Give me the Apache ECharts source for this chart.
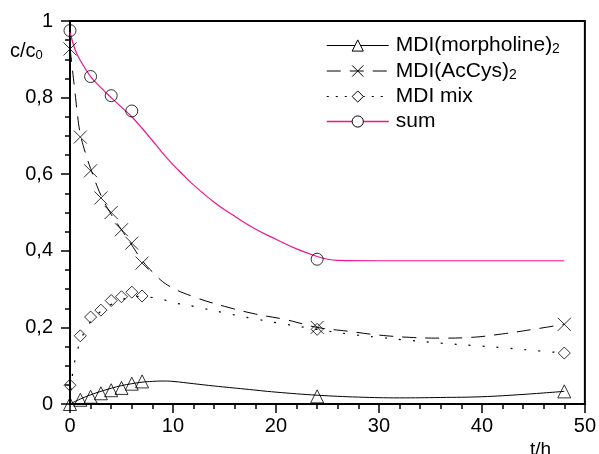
<!DOCTYPE html>
<html>
<head>
<meta charset="utf-8">
<script src="https://cdn.jsdelivr.net/npm/echarts@6/dist/echarts.min.js"></script>
<style>
html,body{margin:0;padding:0;background:#fff;}
#c{width:599px;height:454px;}
</style>
</head>
<body>
<div id="c"></div>
<script>
// ---- measured points ----
const tPts = [0, 1, 2, 3, 4, 5, 6, 7, 24, 48];
const morphPts = [0, 0.011, 0.019, 0.028, 0.036, 0.042, 0.053, 0.059, 0.02, 0.033];
const acCysPts = [0.927, 0.697, 0.609, 0.538, 0.5, 0.455, 0.42, 0.368, 0.2, 0.208];
const mixPts = [0.049, 0.178, 0.227, 0.245, 0.27, 0.28, 0.292, 0.282, 0.195, 0.133];
const tSum = [0, 2, 4, 6, 24];
const sumPts = [0.975, 0.855, 0.805, 0.765, 0.378];

// ---- fitted curves ----
const tMorphCurve = [0, 1, 2, 3, 4, 5, 6, 7, 8, 9, 10, 12, 14, 17, 20, 24, 28, 32, 36, 40, 44, 48];
const morphCurve = [0, 0.013, 0.024, 0.033, 0.041, 0.048, 0.053, 0.057, 0.059, 0.06, 0.059, 0.053, 0.047, 0.039, 0.031, 0.023, 0.018, 0.016, 0.017, 0.019, 0.025, 0.033];
const tAcCurve = [0, 0.25, 0.5, 0.75, 1, 1.5, 2, 3, 4, 5, 6, 7, 8, 9.5, 12, 15, 18, 21, 24, 27, 30, 33, 36, 39, 42, 45, 48];
const acCurve = [0.93, 0.87, 0.81, 0.75, 0.705, 0.655, 0.615, 0.545, 0.495, 0.455, 0.415, 0.375, 0.345, 0.31, 0.28, 0.255, 0.235, 0.22, 0.2, 0.19, 0.18, 0.174, 0.172, 0.174, 0.183, 0.195, 0.208];
const tMixCurve = [0, 0.3, 0.7, 1, 2, 3, 4, 5, 6, 7, 8, 9, 10, 12, 15, 18, 21, 24, 27, 30, 33, 36, 39, 42, 45, 48];
const mixCurve = [0, 0.09, 0.135, 0.165, 0.215, 0.242, 0.26, 0.272, 0.279, 0.281, 0.278, 0.273, 0.265, 0.255, 0.238, 0.222, 0.208, 0.195, 0.183, 0.174, 0.166, 0.159, 0.153, 0.147, 0.14, 0.133];
const tSumCurve = [0, 0.5, 1, 2, 3, 4, 5, 6, 7, 8, 9, 10, 11, 12, 14, 16, 18, 20, 22, 24, 25, 26, 30, 48];
const sumCurve = [0.97, 0.925, 0.897, 0.855, 0.826, 0.8, 0.775, 0.75, 0.72, 0.688, 0.655, 0.625, 0.598, 0.572, 0.527, 0.49, 0.457, 0.43, 0.405, 0.385, 0.378, 0.375, 0.374, 0.374];

const seriesNames = ['MDI(morpholine)2', 'MDI(AcCys)2', 'MDI mix', 'sum'];
const legendLabels = ['{m|MDI(morpholine)}{s|2}', '{m|MDI(AcCys)}{s|2}', '{m|MDI mix}', '{m|sum}'];
const xTicks = [0, 10, 20, 30, 40, 50];
const yTicks = [0, 0.2, 0.4, 0.6, 0.8, 1];

const FONT = 'Arial, "Liberation Sans", Helvetica, sans-serif';
const SUM_COLOR = '#f0148c';
const CROSS = 'path://M0,0L10,10M10,0L0,10';

function zip(xs, ys) { return xs.map((x, i) => [x, ys[i]]); }

const hollow = { color: 'rgba(0,0,0,0)', borderColor: '#000', borderWidth: 1 };
const legendItem = { color: '#fff', borderColor: '#000', borderWidth: 1 };

const chart = echarts.init(document.getElementById('c'), null, { renderer: 'canvas' });
chart.setOption({
  animation: false,
  backgroundColor: '#fff',
  grid: { left: 70, right: 13, top: 21, bottom: 50, show: true, borderColor: '#000', borderWidth: 2, backgroundColor: 'transparent' },
  xAxis: {
    type: 'value', min: xTicks[0], max: xTicks[xTicks.length - 1], interval: 10,
    axisLine: { show: true, onZero: false, lineStyle: { color: '#000', width: 2 } },
    axisTick: { show: true, inside: false, length: 9, lineStyle: { color: '#000', width: 1.5 } },
    minorTick: { show: true, splitNumber: 5, length: 5, lineStyle: { color: '#000', width: 1.5 } },
    splitLine: { show: false },
    axisLabel: { color: '#000', fontSize: 20, fontFamily: FONT, margin: 12 }
  },
  yAxis: {
    type: 'value', min: yTicks[0], max: yTicks[yTicks.length - 1], interval: 0.2,
    axisLine: { show: true, onZero: false, lineStyle: { color: '#000', width: 2 } },
    axisTick: { show: true, inside: false, length: 9, lineStyle: { color: '#000', width: 1.5 } },
    minorTick: { show: true, splitNumber: 4, length: 5, lineStyle: { color: '#000', width: 1.5 } },
    splitLine: { show: false },
    axisLabel: {
      color: '#000', fontSize: 20, fontFamily: FONT, margin: 17,
      formatter: v => (Math.abs(v - Math.round(v)) < 1e-9 ? String(Math.round(v)) : v.toFixed(1).replace('.', ','))
    }
  },
  legend: {
    orient: 'vertical', left: 326, top: 35, padding: 0, itemWidth: 62, itemHeight: 14, itemGap: 4,
    selectedMode: false,
    textStyle: {
      color: '#000', fontFamily: FONT, padding: [0, 0, 0, 2],
      rich: {
        m: { fontSize: 21, lineHeight: 22, fontFamily: FONT, color: '#000' },
        s: { fontSize: 14, verticalAlign: 'bottom', fontFamily: FONT, color: '#000' }
      }
    },
    formatter: name => legendLabels[seriesNames.indexOf(name)],
    data: [
      { name: seriesNames[0], itemStyle: legendItem, lineStyle: { color: '#000', width: 1, type: 'solid' } },
      { name: seriesNames[1], itemStyle: legendItem, lineStyle: { color: '#000', width: 1, type: [14, 9] } },
      { name: seriesNames[2], itemStyle: legendItem, lineStyle: { color: '#000', width: 1, type: [2, 7] } },
      { name: seriesNames[3], itemStyle: legendItem, lineStyle: { color: SUM_COLOR, width: 1.5, type: 'solid' } }
    ]
  },
  graphic: [
    { type: 'text', left: 10, top: 41, style: { text: '{a|c/c}{b|0}', rich: { a: { fontSize: 20, fontFamily: FONT, fill: '#000', lineHeight: 22 }, b: { fontSize: 13, fontFamily: FONT, fill: '#000', verticalAlign: 'bottom' } } } },
    { type: 'text', left: 530, top: 440, style: { text: 't/h', fontSize: 19, fontFamily: FONT, fill: '#000' } }
  ],
  series: [
    { name: seriesNames[0], type: 'line', smooth: 0.4, symbol: 'triangle', showSymbol: false, data: zip(tMorphCurve, morphCurve), lineStyle: { color: '#000', width: 1 }, itemStyle: { color: '#fff', borderColor: '#000' }, z: 2 },
    { name: seriesNames[1], type: 'line', smooth: 0.4, symbol: CROSS, showSymbol: false, data: zip(tAcCurve, acCurve), lineStyle: { color: '#000', width: 1, type: [14, 9] }, itemStyle: { color: '#fff', borderColor: '#000' }, z: 2 },
    { name: seriesNames[2], type: 'line', smooth: 0.4, symbol: 'diamond', showSymbol: false, data: zip(tMixCurve, mixCurve), lineStyle: { color: '#000', width: 1.2, type: [2, 12] }, itemStyle: { color: '#fff', borderColor: '#000' }, z: 2 },
    { name: seriesNames[3], type: 'line', smooth: 0.4, symbol: 'circle', showSymbol: false, data: zip(tSumCurve, sumCurve), lineStyle: { color: SUM_COLOR, width: 1.2 }, itemStyle: { color: '#fff', borderColor: '#000' }, z: 2 },
    { name: 'pts-morph', type: 'scatter', symbol: 'triangle', symbolSize: 13, data: zip(tPts, morphPts), itemStyle: hollow, z: 3 },
    { name: 'pts-accys', type: 'scatter', symbol: CROSS, symbolSize: 13, data: zip(tPts, acCysPts), itemStyle: hollow, z: 3 },
    { name: 'pts-mix', type: 'scatter', symbol: 'diamond', symbolSize: 12, data: zip(tPts, mixPts), itemStyle: hollow, z: 3 },
    { name: 'pts-sum', type: 'scatter', symbol: 'circle', symbolSize: 12, data: zip(tSum, sumPts), itemStyle: hollow, z: 3 }
  ]
});
</script>
</body>
</html>
